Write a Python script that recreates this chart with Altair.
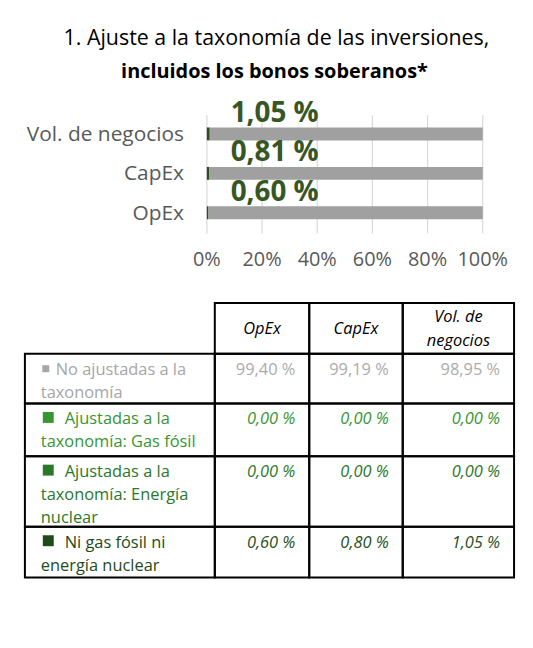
import altair as alt
import pandas as pd

# ---------------- data ----------------
categories = ["OpEx", "CapEx", "Vol. de negocios"]
no_ajustadas = [99.40, 99.19, 98.95]
gas_fosil = [0.00, 0.00, 0.00]
energia_nuclear = [0.00, 0.00, 0.00]
ni_gas_ni_nuclear = [0.60, 0.80, 1.05]
chart_label_values = [0.60, 0.81, 1.05]
x_ticks = [0, 20, 40, 60, 80, 100]
title_line1 = "1. Ajuste a la taxonomía de las inversiones,"
title_line2 = "incluidos los bonos soberanos*"
series_names = [
    "No ajustadas a la taxonomía",
    "Ajustadas a la taxonomía: Gas fósil",
    "Ajustadas a la taxonomía: Energía nuclear",
    "Ni gas fósil ni energía nuclear",
]
# how the row/column labels wrap inside the table cells
row_label_lines = [
    ["No ajustadas a la", "taxonomía"],
    ["Ajustadas a la", "taxonomía: Gas fósil"],
    ["Ajustadas a la", "taxonomía: Energía", "nuclear"],
    ["Ni gas fósil ni", "energía nuclear"],
]
header_lines = [["OpEx"], ["CapEx"], ["Vol. de", "negocios"]]


def pct(v):
    return f"{v:.2f}".replace(".", ",") + " %"


# ---------------- styles / layout ----------------
FONT = "Open Sans"
W, H = 520, 626
GRAY_BAR = "#a0a0a0"
GRID = "#d9d9d9"
AXIS_TXT = "#595959"
LABEL_GREEN = "#375623"
ROW_COLORS = ["#a6a6a6", "#389632", "#2a782a", "#1e4b19"]
VAL_COLORS = ["#ababab", "#389632", "#2a782a", "#26501e"]
SQ_SIZES = [49, 121, 121, 121]
TFS = 16.5

XB = [200, 477.5]
YB = [105, 224]
GRID_Y = (106, 225)
TICK_LABEL_Y = 258
YLAB_X = 177
TITLE_X = 270
TITLE_Y = [35, 69]
TABLE_X = [17, 208, 303, 397, 509]
TABLE_Y = [295, 346, 396, 449, 520, 571]
LINE_H = 23

xbar = alt.Scale(domain=[0, 100], range=XB, nice=False, zero=False)
chart_order = list(reversed(categories))
ybar = alt.Scale(domain=chart_order, range=YB, paddingInner=0, paddingOuter=0)
pxs = alt.Scale(domain=[0, W], range=[0, W], nice=False, zero=False)
pys = alt.Scale(domain=[0, H], range=[0, H], nice=False, zero=False)

layers = []

# title
layers.append(alt.Chart(pd.DataFrame({"t": [title_line1]})).mark_text(
    font=FONT, fontSize=21.5, color="black", align="center", baseline="alphabetic"
).encode(x=alt.value(TITLE_X), y=alt.value(TITLE_Y[0]), text="t:N"))
layers.append(alt.Chart(pd.DataFrame({"t": [title_line2]})).mark_text(
    font=FONT, fontSize=20, fontWeight="bold", color="black", align="center", baseline="alphabetic"
).encode(x=alt.value(TITLE_X - 2), y=alt.value(TITLE_Y[1]), text="t:N"))

# gridlines
grid_df = pd.DataFrame({"t": x_ticks, "lab": [f"{t}%" for t in x_ticks]})
layers.append(alt.Chart(grid_df).mark_rule(color=GRID, strokeWidth=1.2).encode(
    x=alt.X("t:Q", scale=xbar, axis=None), y=alt.value(GRID_Y[0]), y2=alt.value(GRID_Y[1])))
layers.append(alt.Chart(grid_df).mark_text(
    font=FONT, fontSize=20, color=AXIS_TXT, align="center", baseline="alphabetic"
).encode(x=alt.X("t:Q", scale=xbar, axis=None), y=alt.value(TICK_LABEL_Y), text="lab:N"))

# stacked bars
stack = [
    (series_names[3], ni_gas_ni_nuclear, "#2b4f1c"),
    (series_names[1], gas_fosil, ROW_COLORS[1]),
    (series_names[2], energia_nuclear, ROW_COLORS[2]),
    (series_names[0], no_ajustadas, GRAY_BAR),
]
rows = []
for j, cat in enumerate(categories):
    s = 0.0
    for name, vals, _ in stack:
        rows.append({"cat": cat, "serie": name, "start": s, "end": s + vals[j]})
        s += vals[j]
bar_df = pd.DataFrame(rows)
layers.append(alt.Chart(bar_df).mark_bar(size=13).encode(
    y=alt.Y("cat:N", scale=ybar, axis=None),
    x=alt.X("start:Q", scale=xbar, axis=None),
    x2="end:Q",
    color=alt.Color("serie:N", scale=alt.Scale(domain=[s[0] for s in stack], range=[s[2] for s in stack]), legend=None),
))

# y category labels
cat_df = pd.DataFrame({"cat": categories})
layers.append(alt.Chart(cat_df).mark_text(
    font=FONT, fontSize=21, color=AXIS_TXT, align="right", baseline="middle", dy=1
).encode(y=alt.Y("cat:N", scale=ybar, axis=None), x=alt.value(YLAB_X), text="cat:N"))

# value labels above bars
lab_df = pd.DataFrame({"cat": categories, "zero": [0] * 3, "lab": [pct(v) for v in chart_label_values]})
layers.append(alt.Chart(lab_df).mark_text(
    font=FONT, fontSize=28, fontWeight="bold", color=LABEL_GREEN, align="left", baseline="alphabetic", dx=24, dy=-12
).encode(x=alt.X("zero:Q", scale=xbar, axis=None), y=alt.Y("cat:N", scale=ybar, axis=None), text="lab:N"))

# ---------------- table ----------------
cells = []
for c in range(1, 4):
    cells.append({"x1": TABLE_X[c], "x2": TABLE_X[c + 1], "y1": TABLE_Y[0], "y2": TABLE_Y[1]})
for r in range(1, 5):
    for c in range(4):
        cells.append({"x1": TABLE_X[c], "x2": TABLE_X[c + 1], "y1": TABLE_Y[r], "y2": TABLE_Y[r + 1]})
layers.append(alt.Chart(pd.DataFrame(cells)).mark_rect(
    fill="transparent", stroke="black", strokeWidth=2
).encode(
    x=alt.X("x1:Q", scale=pxs, axis=None), x2="x2:Q",
    y=alt.Y("y1:Q", scale=pys, axis=None), y2="y2:Q"))

# header
hdr = []
for c, lines in enumerate(header_lines):
    cx = (TABLE_X[c + 1] + TABLE_X[c + 2]) / 2
    cy = (TABLE_Y[0] + TABLE_Y[1]) / 2
    first = cy - (len(lines) - 1) * 24 / 2 + 6
    hdr.append({"x": cx, "y": first, "t": "\n".join(lines)})
layers.append(alt.Chart(pd.DataFrame(hdr)).mark_text(
    font=FONT, fontSize=TFS, fontStyle="italic", color="black", align="center", baseline="alphabetic",
    lineBreak="\n", lineHeight=24
).encode(x=alt.X("x:Q", scale=pxs, axis=None), y=alt.Y("y:Q", scale=pys, axis=None), text="t:N"))

series_vals = [no_ajustadas, gas_fosil, energia_nuclear, ni_gas_ni_nuclear]
for r in range(4):
    top = TABLE_Y[r + 1]
    base = top + 21
    color = ROW_COLORS[r]
    first_x = 48 if r == 0 else 57
    # square marker
    layers.append(alt.Chart(pd.DataFrame({"x": [38 if r == 0 else 40.5], "y": [base - 6 if r == 0 else base - 7]})).mark_square(
        size=SQ_SIZES[r], color=color, opacity=1, filled=True
    ).encode(x=alt.X("x:Q", scale=pxs, axis=None), y=alt.Y("y:Q", scale=pys, axis=None)))
    lines = row_label_lines[r]
    txt = [{"x": first_x, "y": base, "t": lines[0]}]
    if len(lines) > 1:
        txt.append({"x": 33, "y": base + LINE_H, "t": "\n".join(lines[1:])})
    layers.append(alt.Chart(pd.DataFrame(txt)).mark_text(
        font=FONT, fontSize=TFS, color=color, align="left", baseline="alphabetic", lineBreak="\n", lineHeight=LINE_H
    ).encode(x=alt.X("x:Q", scale=pxs, axis=None), y=alt.Y("y:Q", scale=pys, axis=None), text="t:N"))
    vals = [{"x": TABLE_X[c + 2] - 14, "y": base, "t": pct(series_vals[r][c])} for c in range(3)]
    mt = dict(font=FONT, fontSize=TFS, color=VAL_COLORS[r], align="right", baseline="alphabetic")
    if r > 0:
        mt["fontStyle"] = "italic"
    layers.append(alt.Chart(pd.DataFrame(vals)).mark_text(**mt).encode(
        x=alt.X("x:Q", scale=pxs, axis=None), y=alt.Y("y:Q", scale=pys, axis=None), text="t:N"))

chart = alt.layer(*layers).resolve_scale(
    x="independent", y="independent", color="independent"
).properties(
    width=W, height=H, autosize=alt.AutoSizeParams(type="none"), padding=0, background="white"
).configure_view(stroke="transparent")

chart.save("out.html", embed_options={"renderer": "svg", "actions": False})
